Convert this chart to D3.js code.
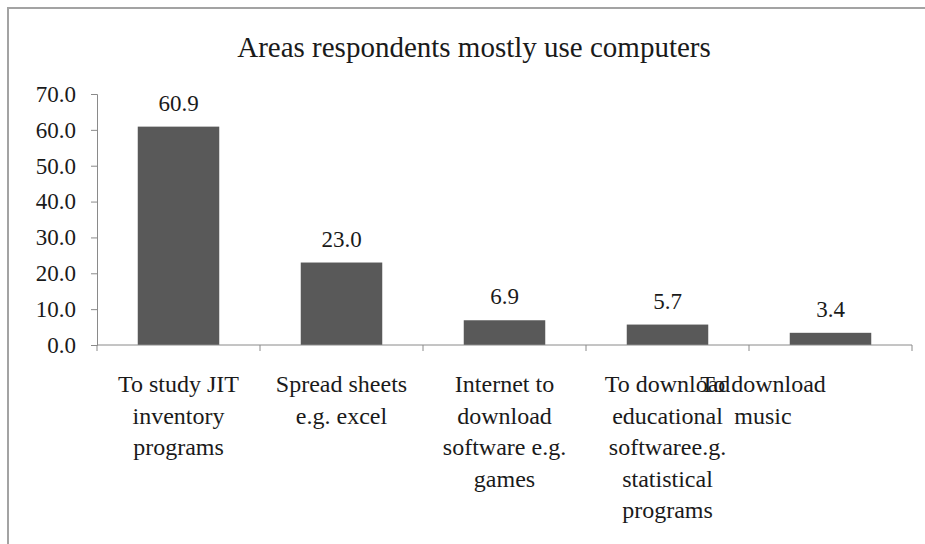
<!DOCTYPE html>
<html>
<head>
<meta charset="utf-8">
<script src="https://cdn.jsdelivr.net/npm/d3@7"></script>
<style>
body{margin:0;background:#fff;}
text{font-family:"Liberation Serif","Times New Roman",serif;fill:#1a1a1a;}
</style>
</head>
<body>
<div id="viz"></div>
<script>
var title='Areas respondents mostly use computers';
var categories=['study','spread','internet','educational','music'];
var labelLines=[
    ['To study JIT','inventory','programs'],
    ['Spread sheets','e.g. excel'],
    ['Internet to','download','software e.g.','games'],
    ['To download','educational','softwaree.g.','statistical','programs'],
    ['To download','music']
];
var values=[60.9,23.0,6.9,5.7,3.4];
var yTicks=[0,10,20,30,40,50,60,70];
//----------------------------------------------------------------
var width=925,
    height=544,
    plotLeft=97,
    plotRight=912,
    plotTop=94,
    plotBottom=345;

var svg=d3.select('#viz').append('svg')
    .attr('width',width)
    .attr('height',height);

// chart frame (right and bottom edges fall outside the picture)
svg.append('rect')
    .attr('x',8).attr('y',8)
    .attr('width',width).attr('height',height)
    .style('fill','#fff')
    .style('stroke','#a3a3a3')
    .style('stroke-width',2);

svg.append('text')
    .attr('x',474).attr('y',57)
    .attr('text-anchor','middle')
    .style('font-size','29px')
    .text(title);

var yScale=d3.scaleLinear()
    .domain([0,70])
    .range([plotBottom,plotTop]);

var xScale=d3.scaleBand()
    .domain(categories)
    .range([plotLeft,plotRight]);

var bw=xScale.bandwidth();

// y axis
var yAxis=svg.append('g')
    .attr('transform','translate('+plotLeft+',0)')
    .call(d3.axisLeft(yScale)
        .tickValues(yTicks)
        .tickFormat(d3.format('.1f'))
        .tickSize(6)
        .tickPadding(15));
yAxis.select('.domain').style('stroke','#8a8a8a');
yAxis.selectAll('.tick line').style('stroke','#8a8a8a');
yAxis.selectAll('.tick text')
    .style('font-size','23px')
    .style('font-family','"Liberation Serif",serif')
    .style('fill','#1a1a1a');

//BARS----------------------------------------------------------------
svg.selectAll('rect.bar').data(values)
    .enter().append('rect')
    .attr('class','bar')
    .attr('x',function(d,i){return xScale(categories[i])+bw/4;})
    .attr('width',bw/2)
    .attr('y',function(d){return yScale(d);})
    .attr('height',function(d){return plotBottom-yScale(d);})
    .style('fill','#595959');

svg.selectAll('text.val').data(values)
    .enter().append('text')
    .attr('class','val')
    .attr('x',function(d,i){return xScale(categories[i])+bw/2;})
    .attr('y',function(d){return yScale(d)-16;})
    .attr('text-anchor','middle')
    .style('font-size','23px')
    .text(function(d){return d.toFixed(1);});

// x axis with ticks on the band edges
svg.append('line')
    .attr('x1',plotLeft).attr('x2',plotRight)
    .attr('y1',plotBottom).attr('y2',plotBottom)
    .style('stroke','#8a8a8a');
var edges=categories.map(function(c){return xScale(c);}).concat([plotRight]);
svg.selectAll('line.xt').data(edges)
    .enter().append('line')
    .attr('class','xt')
    .attr('x1',function(d){return d;}).attr('x2',function(d){return d;})
    .attr('y1',plotBottom).attr('y2',plotBottom+6)
    .style('stroke','#8a8a8a');

//LABELS----------------------------------------------------------------
var lab=svg.selectAll('text.cat').data(labelLines)
    .enter().append('text')
    .attr('class','cat')
    .attr('text-anchor','middle')
    .style('font-size','24px');
lab.each(function(lines,i){
    // last label is pushed left the way the original renderer did
    var cx=i===categories.length-1 ? xScale(categories[i])+14 : xScale(categories[i])+bw/2;
    d3.select(this).selectAll('tspan').data(lines)
        .enter().append('tspan')
        .attr('x',cx)
        .attr('y',function(d,j){return plotBottom+47+j*31.5;})
        .text(function(d){return d;});
});
</script>
</body>
</html>
